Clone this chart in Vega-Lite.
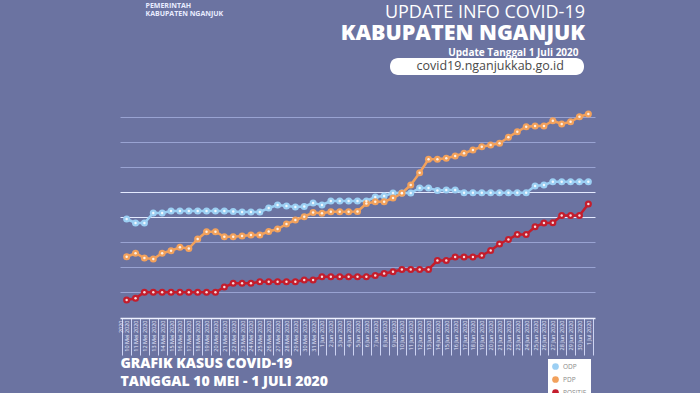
{
  "$schema": "https://vega.github.io/schema/vega-lite/v6.json",
  "width": 475,
  "height": 218,
  "autosize": {"type": "none"},
  "padding": {"left": 120, "top": 100, "right": 105, "bottom": 75},
  "background": "#6b73a1",
  "config": {"view": {"stroke": null}, "font": "Open Sans"},
  "title": {
    "text": "UPDATE INFO COVID-19",
    "subtitle": "KABUPATEN NGANJUK",
    "anchor": "end",
    "frame": "group",
    "color": "white",
    "font": "Open Sans",
    "fontSize": 18,
    "fontWeight": "normal",
    "subtitleColor": "white",
    "subtitleFont": "Open Sans",
    "subtitleFontSize": 21.5,
    "subtitleFontWeight": 800,
    "subtitlePadding": 1,
    "offset": 0,
    "dx": -10,
    "dy": 43
  },
  "data": {
    "values": [
      {"Tanggal": "10 Mei", "ODP": 39.2, "PDP": 24.1, "POSITIF": 6.8},
      {"Tanggal": "11 Mei", "ODP": 37.6, "PDP": 25.5, "POSITIF": 7.5},
      {"Tanggal": "12 Mei", "ODP": 37.6, "PDP": 23.6, "POSITIF": 9.9},
      {"Tanggal": "13 Mei", "ODP": 41.6, "PDP": 23.2, "POSITIF": 9.9},
      {"Tanggal": "14 Mei", "ODP": 41.6, "PDP": 25.5, "POSITIF": 9.9},
      {"Tanggal": "15 Mei", "ODP": 42.4, "PDP": 26.5, "POSITIF": 9.9},
      {"Tanggal": "16 Mei", "ODP": 42.4, "PDP": 27.9, "POSITIF": 9.9},
      {"Tanggal": "17 Mei", "ODP": 42.4, "PDP": 27.4, "POSITIF": 9.9},
      {"Tanggal": "18 Mei", "ODP": 42.4, "PDP": 31.2, "POSITIF": 9.9},
      {"Tanggal": "19 Mei", "ODP": 42.4, "PDP": 34.1, "POSITIF": 9.9},
      {"Tanggal": "20 Mei", "ODP": 42.4, "PDP": 34.1, "POSITIF": 9.9},
      {"Tanggal": "21 Mei", "ODP": 42.4, "PDP": 32.1, "POSITIF": 12.0},
      {"Tanggal": "22 Mei", "ODP": 42.2, "PDP": 32.1, "POSITIF": 13.5},
      {"Tanggal": "23 Mei", "ODP": 42.0, "PDP": 32.4, "POSITIF": 13.5},
      {"Tanggal": "24 Mei", "ODP": 42.0, "PDP": 32.8, "POSITIF": 13.5},
      {"Tanggal": "25 Mei", "ODP": 42.0, "PDP": 32.8, "POSITIF": 14.1},
      {"Tanggal": "26 Mei", "ODP": 43.6, "PDP": 34.2, "POSITIF": 14.1},
      {"Tanggal": "27 Mei", "ODP": 44.8, "PDP": 35.2, "POSITIF": 14.1},
      {"Tanggal": "28 Mei", "ODP": 44.4, "PDP": 37.2, "POSITIF": 14.1},
      {"Tanggal": "29 Mei", "ODP": 44.0, "PDP": 38.8, "POSITIF": 14.1},
      {"Tanggal": "30 Mei", "ODP": 44.2, "PDP": 40.1, "POSITIF": 14.8},
      {"Tanggal": "31 Mei", "ODP": 45.6, "PDP": 41.8, "POSITIF": 14.8},
      {"Tanggal": "1 Jun", "ODP": 44.8, "PDP": 41.5, "POSITIF": 16.1},
      {"Tanggal": "2 Jun", "ODP": 46.4, "PDP": 42.1, "POSITIF": 16.1},
      {"Tanggal": "3 Jun", "ODP": 46.4, "PDP": 42.1, "POSITIF": 16.1},
      {"Tanggal": "4 Jun", "ODP": 46.4, "PDP": 42.1, "POSITIF": 16.1},
      {"Tanggal": "5 Jun", "ODP": 46.4, "PDP": 42.2, "POSITIF": 16.1},
      {"Tanggal": "6 Jun", "ODP": 46.4, "PDP": 45.4, "POSITIF": 16.1},
      {"Tanggal": "7 Jun", "ODP": 48.0, "PDP": 46.1, "POSITIF": 16.6},
      {"Tanggal": "8 Jun", "ODP": 48.4, "PDP": 46.1, "POSITIF": 17.4},
      {"Tanggal": "9 Jun", "ODP": 49.6, "PDP": 47.6, "POSITIF": 18.1},
      {"Tanggal": "10 Jun", "ODP": 49.6, "PDP": 49.5, "POSITIF": 19.0},
      {"Tanggal": "11 Jun", "ODP": 49.6, "PDP": 52.8, "POSITIF": 19.0},
      {"Tanggal": "12 Jun", "ODP": 51.6, "PDP": 57.7, "POSITIF": 19.0},
      {"Tanggal": "13 Jun", "ODP": 51.6, "PDP": 63.1, "POSITIF": 19.0},
      {"Tanggal": "14 Jun", "ODP": 50.6, "PDP": 63.1, "POSITIF": 22.6},
      {"Tanggal": "15 Jun", "ODP": 50.8, "PDP": 63.5, "POSITIF": 22.6},
      {"Tanggal": "16 Jun", "ODP": 50.8, "PDP": 64.4, "POSITIF": 24.0},
      {"Tanggal": "17 Jun", "ODP": 49.7, "PDP": 65.5, "POSITIF": 24.0},
      {"Tanggal": "18 Jun", "ODP": 49.7, "PDP": 66.8, "POSITIF": 24.0},
      {"Tanggal": "19 Jun", "ODP": 49.7, "PDP": 68.1, "POSITIF": 24.6},
      {"Tanggal": "20 Jun", "ODP": 49.7, "PDP": 68.8, "POSITIF": 26.6},
      {"Tanggal": "21 Jun", "ODP": 49.7, "PDP": 69.5, "POSITIF": 29.2},
      {"Tanggal": "22 Jun", "ODP": 49.7, "PDP": 71.9, "POSITIF": 31.0},
      {"Tanggal": "23 Jun", "ODP": 49.7, "PDP": 74.1, "POSITIF": 33.0},
      {"Tanggal": "24 Jun", "ODP": 49.7, "PDP": 76.1, "POSITIF": 33.0},
      {"Tanggal": "25 Jun", "ODP": 52.4, "PDP": 76.4, "POSITIF": 36.1},
      {"Tanggal": "26 Jun", "ODP": 52.8, "PDP": 76.4, "POSITIF": 37.6},
      {"Tanggal": "27 Jun", "ODP": 54.1, "PDP": 78.5, "POSITIF": 37.7},
      {"Tanggal": "28 Jun", "ODP": 54.1, "PDP": 77.2, "POSITIF": 40.6},
      {"Tanggal": "29 Jun", "ODP": 54.1, "PDP": 78.1, "POSITIF": 40.6},
      {"Tanggal": "30 Jun", "ODP": 54.1, "PDP": 80.1, "POSITIF": 40.6},
      {"Tanggal": "1 Jul", "ODP": 54.1, "PDP": 81.2, "POSITIF": 45.2}
    ]
  },
  "transform": [{"fold": ["ODP", "PDP", "POSITIF"], "as": ["Kategori", "Jumlah"]}],
  "encoding": {
    "x": {
      "field": "Tanggal",
      "type": "ordinal",
      "sort": null,
      "bandPosition": 0.5,
      "scale": {"type": "band", "paddingInner": 0, "paddingOuter": 0.25},
      "axis": {
        "orient": "bottom",
        "title": ["GRAFIK KASUS COVID-19", "TANGGAL 10 MEI - 1 JULI 2020"],
        "titleAnchor": "start",
        "titleAlign": "left",
        "titleFont": "Open Sans",
        "titleFontSize": 14,
        "titleFontWeight": 900,
        "titleColor": "white",
        "titleLineHeight": 17.5,
        "titlePadding": 1,
        "labelAngle": -90,
        "labelFontSize": 5.5,
        "labelColor": "#e6eaff",
        "labelPadding": -35,
        "labelOverlap": false,
        "labelExpr": "datum.label + ' 2020'",
        "tickSize": 37,
        "tickColor": "#cdd3f2",
        "tickBand": "extent",
        "domainColor": "#eef1ff",
        "domainWidth": 1.5
      }
    },
    "y": {
      "field": "Jumlah",
      "type": "quantitative",
      "scale": {"domain": [-0.4, 86.8], "nice": false, "zero": false}
    },
    "color": {
      "field": "Kategori",
      "type": "nominal",
      "scale": {"domain": ["ODP", "PDP", "POSITIF"], "range": ["#9ccff3", "#f2a15c", "#c41d2c"]},
      "legend": {
        "orient": "none",
        "legendX": 428,
        "legendY": 259,
        "title": null,
        "fillColor": "white",
        "padding": 4,
        "labelFontSize": 6.5,
        "labelColor": "#8a8a8a",
        "symbolType": "circle",
        "symbolSize": 45,
        "symbolStrokeWidth": 0,
        "rowPadding": 6
      }
    }
  },
  "layer": [
    {
      "mark": {"type": "line", "strokeWidth": 2.5},
      "encoding": {
        "y": {
          "field": "Jumlah",
          "type": "quantitative",
          "axis": {
            "orient": "left",
            "values": [10, 20, 30, 40, 50, 60, 70, 80],
            "grid": true,
            "gridColor": {"condition": {"test": "datum.value === 40 || datum.value === 50", "value": "#e4eaff"}, "value": "#99a3d2"},
            "gridWidth": 1,
            "domain": false,
            "ticks": false,
            "labels": false,
            "title": ["PEMERINTAH", "KABUPATEN NGANJUK"],
            "titleAngle": 0,
            "titleAlign": "left",
            "titleBaseline": "top",
            "titleX": 25,
            "titleY": -99,
            "titleFontSize": 7,
            "titleFontWeight": "bold",
            "titleColor": "#e8ecff",
            "titleLineHeight": 8
          }
        }
      }
    },
    {
      "mark": {"type": "point", "filled": true, "size": 50, "opacity": 1},
      "encoding": {
        "shape": {
          "datum": "covid19.nganjukkab.go.id",
          "legend": {
            "orient": "none",
            "legendX": 270,
            "legendY": -42,
            "title": " ",
            "titleOrient": "right",
            "titlePadding": 18,
            "titleFontSize": 4,
            "fillColor": "white",
            "cornerRadius": 8,
            "padding": 2,
            "labelFont": "Open Sans",
            "labelFontSize": 12.5,
            "labelColor": "#4a4a4a",
            "labelLimit": 300,
            "symbolOpacity": 0,
            "symbolSize": 4,
            "labelOffset": 12,
            "symbolStrokeWidth": 0
          }
        },
        "y": {
          "field": "Jumlah",
          "type": "quantitative",
          "axis": {
            "orient": "right",
            "grid": false,
            "domain": false,
            "ticks": false,
            "labels": false,
            "title": "Update Tanggal 1 Juli 2020",
            "titleAngle": 0,
            "titleAlign": "right",
            "titleBaseline": "alphabetic",
            "titleX": -17,
            "titleY": -45,
            "titleFontSize": 10,
            "titleFontWeight": "bold",
            "titleColor": "white"
          }
        }
      }
    },
    {
      "mark": {"type": "point", "filled": true, "size": 6, "opacity": 0.85},
      "encoding": {
        "color": {"value": "white"},
        "y": {"field": "Jumlah", "type": "quantitative", "axis": null}
      }
    }
  ],
  "resolve": {"axis": {"y": "independent"}}
}
